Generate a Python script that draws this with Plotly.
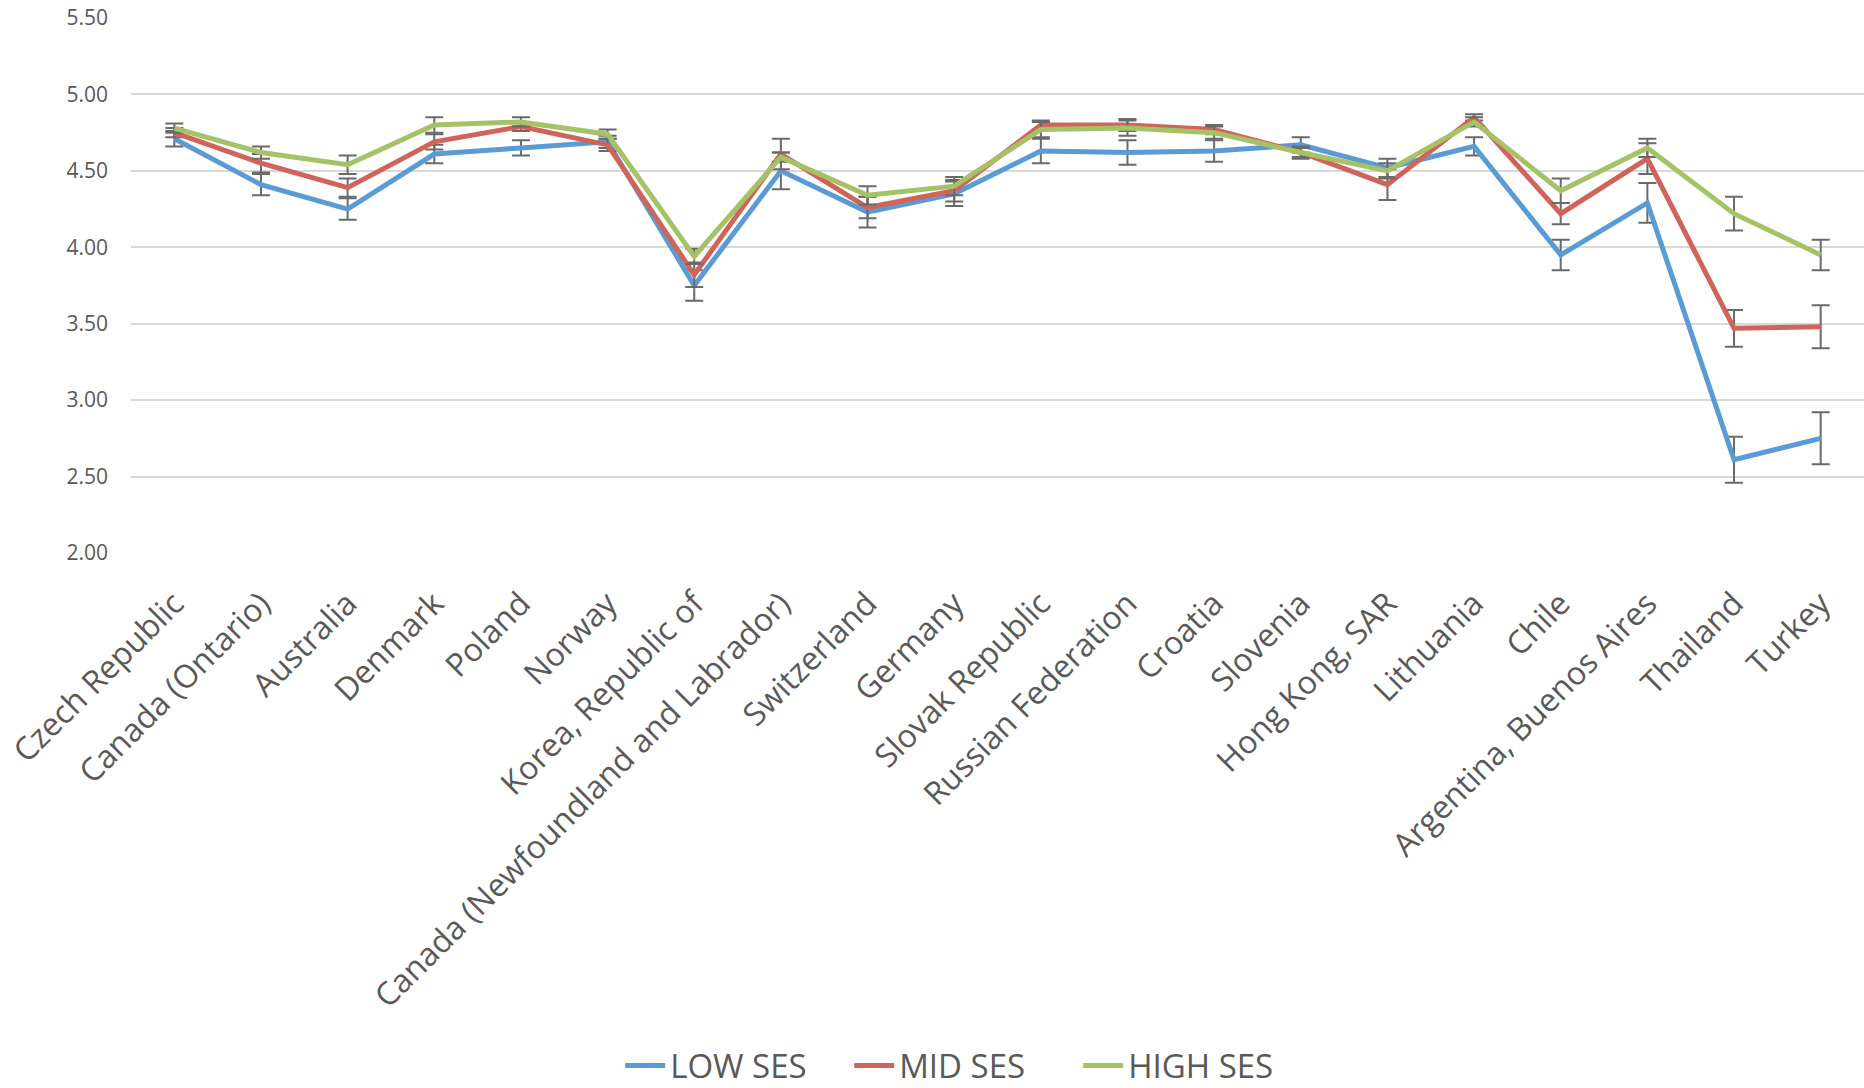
import plotly.graph_objects as go

countries = [
    "Czech Republic", "Canada (Ontario)", "Australia", "Denmark", "Poland",
    "Norway", "Korea, Republic of", "Canada (Newfoundland and Labrador)",
    "Switzerland", "Germany", "Slovak Republic", "Russian Federation",
    "Croatia", "Slovenia", "Hong Kong, SAR", "Lithuania", "Chile",
    "Argentina, Buenos Aires", "Thailand", "Turkey",
]

low_ses = [4.71, 4.41, 4.25, 4.61, 4.65, 4.69, 3.75, 4.50, 4.23, 4.35,
           4.63, 4.62, 4.63, 4.67, 4.52, 4.66, 3.95, 4.29, 2.61, 2.75]
mid_ses = [4.75, 4.55, 4.39, 4.69, 4.79, 4.67, 3.82, 4.61, 4.26, 4.37,
           4.80, 4.80, 4.77, 4.62, 4.41, 4.85, 4.22, 4.58, 3.47, 3.48]
high_ses = [4.78, 4.62, 4.54, 4.80, 4.82, 4.74, 3.94, 4.59, 4.34, 4.40,
            4.77, 4.78, 4.75, 4.62, 4.50, 4.82, 4.37, 4.65, 4.22, 3.95]

low_err = [0.05, 0.07, 0.07, 0.06, 0.05, 0.04, 0.10, 0.12, 0.10, 0.08,
           0.08, 0.08, 0.07, 0.05, 0.06, 0.06, 0.10, 0.13, 0.15, 0.17]
mid_err = [0.03, 0.06, 0.06, 0.05, 0.03, 0.04, 0.08, 0.10, 0.07, 0.07,
           0.03, 0.04, 0.03, 0.04, 0.10, 0.02, 0.07, 0.10, 0.12, 0.14]
high_err = [0.03, 0.04, 0.06, 0.05, 0.03, 0.03, 0.05, 0.03, 0.06, 0.06,
            0.05, 0.05, 0.04, 0.03, 0.05, 0.03, 0.08, 0.06, 0.11, 0.10]

y_ticks = [2.0, 2.5, 3.0, 3.5, 4.0, 4.5, 5.0, 5.5]

series = [
    ("LOW SES", low_ses, low_err, "#5B9BD5"),
    ("MID SES", mid_ses, mid_err, "#D0645A"),
    ("HIGH SES", high_ses, high_err, "#A6C266"),
]

FONT = "'Open Sans', Lato, sans-serif"
TEXT_GREY = "#595959"

fig = go.Figure()
for name, vals, errs, color in series:
    fig.add_trace(go.Scatter(
        x=countries,
        y=vals,
        name=name,
        mode="lines",
        line=dict(color=color, width=5),
        error_y=dict(type="data", array=errs, visible=True,
                     color="#6A6A6A", thickness=2, width=9),
    ))

fig.update_layout(
    width=1864,
    height=1088,
    paper_bgcolor="white",
    plot_bgcolor="white",
    margin=dict(l=131, r=0, t=18, b=535, autoexpand=False),
    font=dict(family=FONT, color=TEXT_GREY),
    showlegend=True,
    legend=dict(
        orientation="h",
        xref="container", yref="paper",
        x=0.517, xanchor="center",
        y=-0.958, yanchor="middle",
        font=dict(size=33, color=TEXT_GREY, family=FONT),
        itemwidth=40,
        entrywidth=174,
        entrywidthmode="pixels",
    ),
)

fig.update_xaxes(
    type="category",
    range=[-0.5, len(countries) - 0.5],
    tickangle=-45,
    tickfont=dict(size=32, color=TEXT_GREY, family=FONT),
    showgrid=False,
    showline=False,
    zeroline=False,
    ticks="outside", ticklen=18, tickcolor="rgba(0,0,0,0)",
    automargin=False,
)

fig.update_yaxes(
    range=[2.0, 5.5],
    tickvals=y_ticks,
    tickformat=".2f",
    tickfont=dict(size=21, color=TEXT_GREY, family=FONT),
    showgrid=True,
    gridcolor="#D9D9D9",
    gridwidth=1.5,
    showline=False,
    zeroline=False,
    ticklabelstandoff=22,
    automargin=False,
)

fig.write_html("out.html")
